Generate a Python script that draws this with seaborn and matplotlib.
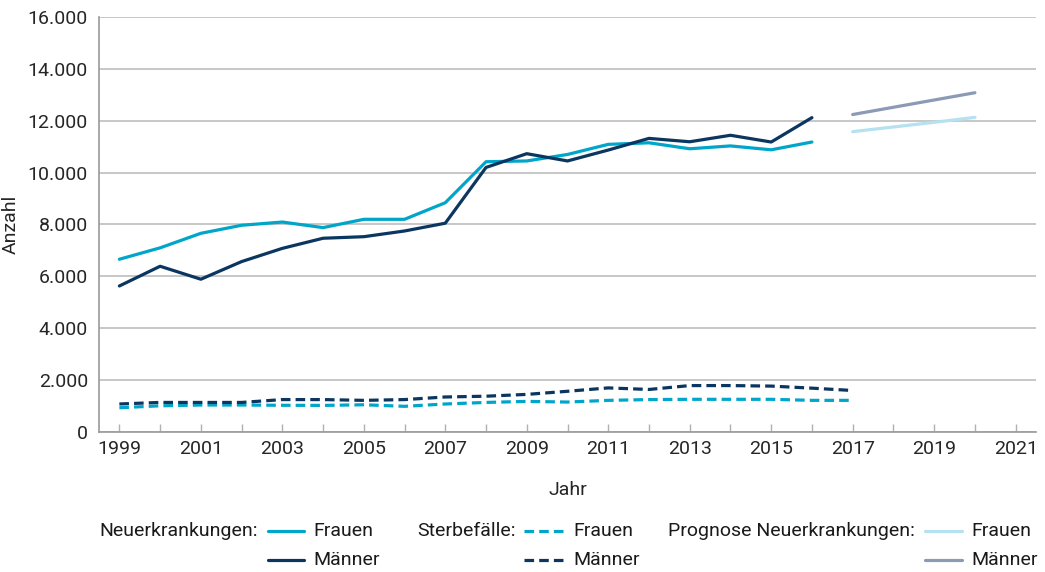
import matplotlib
matplotlib.use("Agg")
import matplotlib.pyplot as plt
import matplotlib.ticker as mticker
from matplotlib.lines import Line2D
import seaborn as sns
import numpy as np

# ---- data ----
years_inc = list(range(1999, 2017))
inc_frauen = [6660, 7100, 7660, 7970, 8095, 7880, 8200, 8200, 8840, 10420,
              10450, 10700, 11090, 11150, 10920, 11030, 10880, 11180]
inc_maenner = [5630, 6390, 5890, 6570, 7080, 7470, 7530, 7750, 8050, 10200,
               10730, 10450, 10870, 11320, 11190, 11440, 11180, 12120]

years_mort = list(range(1999, 2018))
mort_frauen = [935, 1010, 1040, 1040, 1030, 1025, 1050, 990, 1080, 1140,
               1180, 1155, 1220, 1250, 1260, 1260, 1260, 1220, 1220]
mort_maenner = [1080, 1140, 1140, 1140, 1250, 1250, 1220, 1250, 1350, 1380,
                1450, 1570, 1700, 1640, 1790, 1790, 1770, 1690, 1600]

years_prog = [2017, 2018, 2019, 2020]
prog_frauen = [11580, 11760, 11940, 12130]
prog_maenner = [12240, 12520, 12800, 13080]

xticks_labeled = list(range(1999, 2022, 2))
yticks = list(range(0, 16001, 2000))

C_F = "#00a6c9"
C_M = "#0b3660"
C_PF = "#b5e1f1"
C_PM = "#8c9ab6"
GRID = "#b8b8b8"

sns.set_theme(style="white")
plt.rcParams["font.family"] = ["Roboto", "DejaVu Sans"]
plt.rcParams["text.color"] = "#1a1a1a"

fig = plt.figure(figsize=(10.45, 5.72), dpi=100)
ax = fig.add_axes([99 / 1045, 1 - 432 / 572, (1036 - 99) / 1045, (432 - 17) / 572])

lw = 2.3
dash = (0, (3, 1.6))
sns.lineplot(x=years_inc, y=inc_frauen, ax=ax, color=C_F, lw=lw)
sns.lineplot(x=years_inc, y=inc_maenner, ax=ax, color=C_M, lw=lw)
sns.lineplot(x=years_mort, y=mort_frauen, ax=ax, color=C_F, lw=lw, linestyle=dash)
sns.lineplot(x=years_mort, y=mort_maenner, ax=ax, color=C_M, lw=lw, linestyle=dash)
sns.lineplot(x=years_prog, y=prog_frauen, ax=ax, color=C_PF, lw=lw)
sns.lineplot(x=years_prog, y=prog_maenner, ax=ax, color=C_PM, lw=lw)

fs = 14
ax.set_xlim(1998.5, 2021.5)
ax.set_ylim(0, 16000)
ax.set_yticks(yticks)
ax.yaxis.set_major_formatter(mticker.FuncFormatter(lambda v, p: f"{int(v):,}".replace(",", ".")))
ax.set_xticks(xticks_labeled)
ax.set_xticks(list(range(1999, 2022)), minor=True)
ax.grid(axis="y", color=GRID, lw=1.1)
ax.set_axisbelow(True)
for s in ["top", "right"]:
    ax.spines[s].set_visible(False)
for s in ["left", "bottom"]:
    ax.spines[s].set_color("#9a9a9a")
    ax.spines[s].set_linewidth(1.2)
ax.tick_params(axis="x", which="both", direction="in", length=6, color="#b0b0b0", width=1,
               labelsize=fs, pad=6, bottom=True)
ax.tick_params(axis="y", length=0, labelsize=fs, pad=8)
ax.set_xlabel("Jahr", fontsize=fs, labelpad=16)
ax.set_ylabel("Anzahl", fontsize=fs, labelpad=6)

# ---- legend ----
row1 = 1 - 531 / 572
row2 = 1 - 560 / 572

def group(label, x_text_right, x_handle, handle_len_px, styles):
    fig.text(x_text_right / 1045, row1, label, ha="right", va="center", fontsize=fs)
    for (col, ls), lab, yy in zip(styles, ["Frauen", "Männer"], [row1, row2]):
        x0 = x_handle / 1045
        x1 = (x_handle + handle_len_px) / 1045
        fig.add_artist(Line2D([x0, x1], [yy, yy], color=col, lw=lw, linestyle=ls,
                              transform=fig.transFigure))
        fig.text((x_handle + handle_len_px + 9) / 1045, yy, lab, ha="left", va="center", fontsize=fs)

group("Neuerkrankungen:", 258, 268, 36, [(C_F, "-"), (C_M, "-")])
group("Sterbefälle:", 516, 524, 40, [(C_F, dash), (C_M, dash)])
group("Prognose Neuerkrankungen:", 915, 925, 37, [(C_PF, "-"), (C_PM, "-")])

fig.savefig("out.png", dpi=100)
